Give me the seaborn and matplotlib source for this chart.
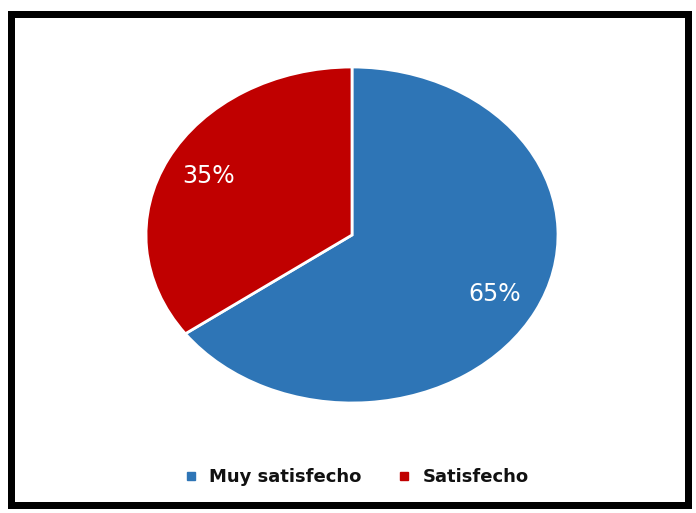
import matplotlib
matplotlib.use("Agg")
import matplotlib.pyplot as plt
from matplotlib.lines import Line2D
from matplotlib.patches import Rectangle
import seaborn as sns

# Survey satisfaction shares
categories = ["Muy satisfecho", "Satisfecho"]
shares = [65, 35]
colors = ["#2E75B6", "#C00000"]

sns.set_theme(style="white")
plt.rcParams["font.family"] = ["DejaVu Sans"]

W, H = 696, 513
fig = plt.figure(figsize=(W / 100, H / 100), dpi=100)
fig.patch.set_facecolor("white")

# Pie occupies an elliptical region (wider than tall)
left, right, top, bottom = 146, 558, 67, 403
ax = fig.add_axes([left / W, 1 - bottom / H, (right - left) / W, (bottom - top) / H])
wedges, texts, autotexts = ax.pie(
    shares,
    colors=colors,
    startangle=90,
    counterclock=False,
    autopct=lambda p: f"{p:.0f}%",
    pctdistance=0.78,
    wedgeprops=dict(edgecolor="white", linewidth=2),
    textprops=dict(color="white", fontsize=17),
)
ax.set_aspect("auto")
ax.set_xlim(-1, 1)
ax.set_ylim(-1, 1)
ax.axis("off")

# Legend along the bottom
handles = [
    Line2D([], [], marker="s", linestyle="none", markersize=6,
           markerfacecolor=c, markeredgecolor=c)
    for c in colors
]
leg = fig.legend(handles, categories, loc="center", bbox_to_anchor=(355 / W, 1 - 477 / H),
                 ncol=2, frameon=False, handletextpad=0.5, handlelength=1.0,
                 columnspacing=1.9, prop=dict(weight="bold", size=13))
for t in leg.get_texts():
    t.set_color("#111111")

# Black frame around the chart, with a faint grey inner edge
fig.patches.append(Rectangle((14 / W, 1 - 501.5 / H), (684.5 - 14) / W, (501.5 - 17) / H,
                             transform=fig.transFigure, fill=False,
                             edgecolor="#9a9a9a", linewidth=1 * 72 / 100))
lw_px = 7
fig.patches.append(Rectangle((10.5 / W, 1 - 504.5 / H), (687.5 - 10.5) / W, (504.5 - 13.5) / H,
                             transform=fig.transFigure, fill=False,
                             edgecolor="black", linewidth=lw_px * 72 / 100))

fig.savefig("out.png", dpi=100)
